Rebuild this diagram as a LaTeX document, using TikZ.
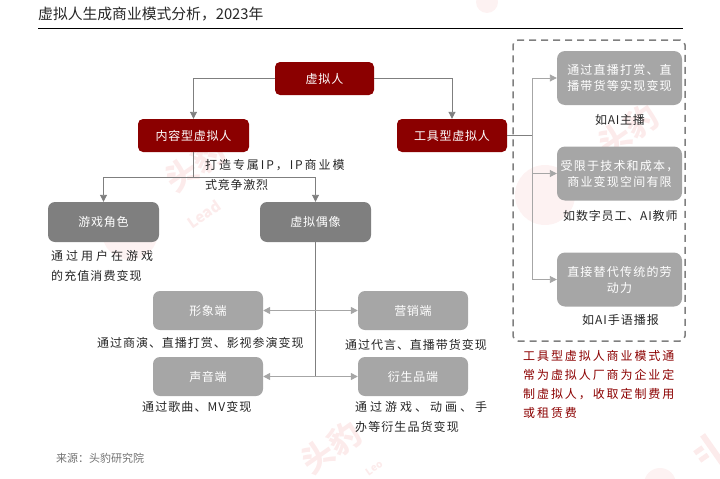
\documentclass[tikz,border=0pt]{standalone}
\usepackage{fontspec}
\setmainfont{Noto Sans CJK SC}
\usetikzlibrary{arrows.meta}
\definecolor{darkred}{HTML}{8B0000}
\definecolor{midgray}{HTML}{7F7F7F}
\definecolor{lightgray}{HTML}{A6A6A6}
\definecolor{inkgray}{HTML}{262626}
\definecolor{markpink}{HTML}{FCEBEB}
\definecolor{markpale}{HTML}{FDF2F2}
\newcommand{\trk}[2]{{\addfontfeature{LetterSpace=#1}#2}}
\tikzset{
  redbox/.style={draw=none, fill=darkred, rounded corners=5pt, text=white, inner sep=0pt, minimum height=33pt, font=\fontsize{12}{15}\selectfont},
  darkbox/.style={draw=none, fill=midgray, rounded corners=7pt, text=white, inner sep=0pt, minimum width=111pt, minimum height=40pt, font=\fontsize{12}{15}\selectfont},
  greybox/.style={draw=none, fill=lightgray, rounded corners=7pt, text=white, inner sep=0pt, minimum width=110pt, minimum height=39pt, font=\fontsize{12}{15}\selectfont},
  sidebox/.style={draw=none, fill=lightgray, rounded corners=8pt, text=white, inner sep=0pt, minimum width=125pt, minimum height=54pt, align=center, font=\fontsize{12}{16}\selectfont},
  note/.style={inner sep=0pt, anchor=west, align=left, text=inkgray, font=\fontsize{12}{20}\selectfont},
  wm/.style={text=markpink, inner sep=0pt, font=\bfseries\fontsize{32}{32}\selectfont},
  wmsub/.style={text=markpink, inner sep=0pt, font=\bfseries\fontsize{15}{15}\selectfont},
  line/.style={draw=midgray, line width=0.9pt},
  arr/.style={-{Triangle[length=7pt,width=7pt]}},
  twoarr/.style={{Triangle[length=7pt,width=7pt]}-{Triangle[length=7pt,width=7pt]}},
}
\begin{document}
\begin{tikzpicture}[x=1pt, y=-1pt]
    \useasboundingbox (0,0) rectangle (720,479);
    % watermark
    \fill [markpale] (130,232) circle (28pt);
    \fill [markpale] (545,195) circle (30pt);
    \fill [markpale] (487,2) circle (11pt);
    \fill [markpale] (660,484) circle (16pt);
    \node [wm, rotate=35] (wm1) at (195,165) {头豹};
    \node [wmsub, rotate=35] (wm1b) at (204,214) {Lead};
    \node [wm, rotate=35] (wm2) at (628,130) {头豹};
    \node [wm, rotate=35] (wm3) at (331,447) {头豹};
    \node [wmsub, rotate=35, font=\bfseries\fontsize{10}{10}\selectfont] (wm3b) at (374,468) {Leo};
    \fill [markpink, rotate around={35:(706,452)}] (696,444) rectangle (706,449) (696,453) rectangle (706,458) (710,436) rectangle (716,475);
    % title
    \node [inner sep=0pt, anchor=west, text=inkgray, font=\fontsize{14.8}{16}\selectfont] (title) at (38,14) {虚拟人生成商业模式分析，2023年};
    \coordinate (ruleL) at (38,28.5);
    \coordinate (ruleR) at (683,28.5);
    \draw [black, line width=0.9pt] (ruleL) -- (ruleR);
    % top boxes
    \node [redbox, minimum width=99pt] (root) at (324.5,78.5) {\trk{8}{虚拟人}};
    \node [redbox, minimum width=111pt] (content) at (193.5,135.5) {\trk{6}{内容型虚拟人}};
    \node [redbox, minimum width=110pt] (tool) at (452,135.5) {\trk{6}{工具型虚拟人}};
    \node [darkbox] (game) at (103.5,222) {\trk{6}{游戏角色}};
    \node [darkbox] (idol) at (315.5,222) {\trk{6}{虚拟偶像}};
    \node [greybox] (image) at (208,310.5) {\trk{6}{形象端}};
    \node [greybox] (voice) at (208,376.5) {\trk{6}{声音端}};
    \node [greybox] (market) at (413,310.5) {\trk{6}{营销端}};
    \node [greybox] (deriv) at (413,376.5) {\trk{6}{衍生品端}};
    % right side
    \node [sidebox] (live) at (619.5,78) {\trk{10}{通过直播打赏、直}\\\trk{10}{播带货等实现变现}};
    \node [sidebox] (limit) at (619.5,173.5) {\trk{10}{受限于技术和成本，}\\\trk{10}{商业变现空间有限}};
    \node [sidebox] (labor) at (619.5,279.5) {\trk{10}{直接替代传统的劳}\\\trk{10}{动力}};
    \node [draw=midgray, dashed, dash pattern=on 7pt off 5pt, line width=1.5pt, rounded corners=5pt, minimum width=172pt, minimum height=301pt, inner sep=0pt] (frame) at (599,190.5) {};
    % connectors
    \draw [line, arr] (root.west) -| (content.north);
    \draw [line, arr] (root.east) -| (tool.north);
    \coordinate (split) at (193.5,177);
    \draw [line] (content.south) -- (split);
    \draw [line, arr] (split) -| (game.north);
    \draw [line, arr] (split) -| (idol.north);
    \coordinate (voij) at (idol.south |- voice.east);
    \draw [line] (idol.south) -- (voij);
    \draw [line, draw=lightgray, twoarr, line width=1.4pt] (image.east) -- (market.west);
    \draw [line, draw=lightgray, twoarr, line width=1.4pt] (voice.east) -- (deriv.west);
    \coordinate (trunk) at (532,135.5);
    \draw [line] (tool.east) -- (trunk);
    \draw [line, draw=lightgray, arr] (trunk) |- (live.west);
    \draw [line, draw=lightgray, arr] (trunk) |- (limit.west);
    \draw [line, draw=lightgray, arr] (trunk) |- (labor.west);
    % notes
    \node [note] (ipnote) at (205,175) {\trk{16}{打造专属IP，IP商业模}\\\trk{6}{式竞争激烈}};
    \node [note] (gamenote) at (51,265.5) {\trk{25}{通过用户在游戏}\\\trk{9}{的充值消费变现}};
    \node [note] (imgnote) at (97,343) {\trk{8}{通过商演、直播打赏、影视参演变现}};
    \node [note] (mktnote) at (345,345) {\trk{8}{通过代言、直播带货变现}};
    \node [note] (voinote) at (142,407) {\trk{9}{通过歌曲、MV变现}};
    \node [note] (drvnote) at (355,417) {\trk{25}{通过游戏、动画、手}\\\trk{9}{办等衍生品货变现}};
    \node [note] (livenote) at (595,120) {\trk{6}{如AI主播}};
    \node [note] (limitnote) at (563,216) {\trk{7}{如数字员工、AI教师}};
    \node [note] (labornote) at (582,320) {\trk{8}{如AI手语播报}};
    \node [note, text=darkred, font=\fontsize{12}{19}\selectfont] (rednote) at (523,384.5) {\trk{16}{工具型虚拟人商业模式通}\\\trk{16}{常为虚拟人厂商为企业定}\\\trk{16}{制虚拟人，收取定制费用}\\\trk{16}{或租赁费}};
    \node [inner sep=0pt, anchor=west, text=midgray!90!black, font=\fontsize{11}{13}\selectfont] (source) at (56,458) {来源：头豹研究院};
\end{tikzpicture}
\end{document}
